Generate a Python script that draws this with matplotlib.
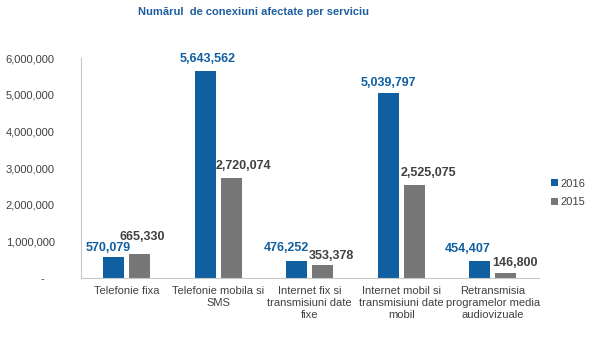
import matplotlib
matplotlib.use("Agg")
import matplotlib.pyplot as plt
import numpy as np
from matplotlib.ticker import FuncFormatter

categories = ["Telefonie fixa", "Telefonie mobila si\nSMS", "Internet fix si\ntransmisiuni date\nfixe",
              "Internet mobil si\ntransmisiuni date\nmobil", "Retransmisia\nprogramelor media\naudiovizuale"]
values_2016 = [570079, 5643562, 476252, 5039797, 454407]
values_2015 = [665330, 2720074, 353378, 2525075, 146800]

blue = "#105FA0"
gray = "#777777"

# label nudges in pixels (dx, dy above bar top), like the manual placement in the original
nudge_2016 = [(-6, 9), (2, 12), (-10, 13), (0, 10), (-12, 12)]
nudge_2015 = [(3, 17), (12, 12), (9, 9), (14, 12), (9, 10)]

plt.rcParams["font.family"] = ["Liberation Sans", "DejaVu Sans"]

fig = plt.figure(figsize=(5.96, 3.58), dpi=100)
ax = fig.add_axes([81 / 596, 1 - 278 / 358, 457.5 / 596, 220 / 358])

x = np.arange(len(categories))
w = 0.23
off = 0.142
b1 = ax.bar(x - off, values_2016, w, color=blue, label="2016")
b2 = ax.bar(x + off, values_2015, w, color=gray, label="2015")

for bars, col, nudges in ((b1, blue, nudge_2016), (b2, "#404040", nudge_2015)):
    for r, (dx, dy) in zip(bars, nudges):
        ax.annotate(f"{int(r.get_height()):,}", (r.get_x() + r.get_width() / 2, r.get_height()),
                    xytext=(dx, dy), textcoords="offset pixels", ha="center", va="center",
                    fontsize=9, fontweight="bold", color=col)

ax.set_xlim(-0.5, len(categories) - 0.5)
ax.set_ylim(0, 6000000)
ax.set_yticks(range(0, 6000001, 1000000))
ax.yaxis.set_major_formatter(FuncFormatter(lambda v, p: "-   " if v == 0 else f"{int(v):,}"))
ax.set_xticks(x)
ax.set_xticklabels(categories, fontsize=8, color="#404040")
ax.tick_params(axis="y", labelsize=8, labelcolor="#404040", length=0, pad=19)
ax.tick_params(axis="x", length=0, pad=6)

for s in ("top", "right"):
    ax.spines[s].set_visible(False)
ax.spines["left"].set_color("#C8C8C8")
ax.spines["bottom"].set_color("#C8C8C8")

ax.legend(loc="center left", bbox_to_anchor=(551 / 596, 1 - 193 / 358), bbox_transform=fig.transFigure,
          frameon=False, fontsize=8, borderpad=0, borderaxespad=0,
          handlelength=0.6, handleheight=0.6, handletextpad=0.25, labelspacing=0.8,
          labelcolor="#404040")

fig.text(254 / 596, 1 - 12 / 358, "Numărul  de conexiuni afectate per serviciu", ha="center", va="center",
         fontsize=8, fontweight="bold", color="#1F5F9F")

fig.savefig("out.png", dpi=100)
